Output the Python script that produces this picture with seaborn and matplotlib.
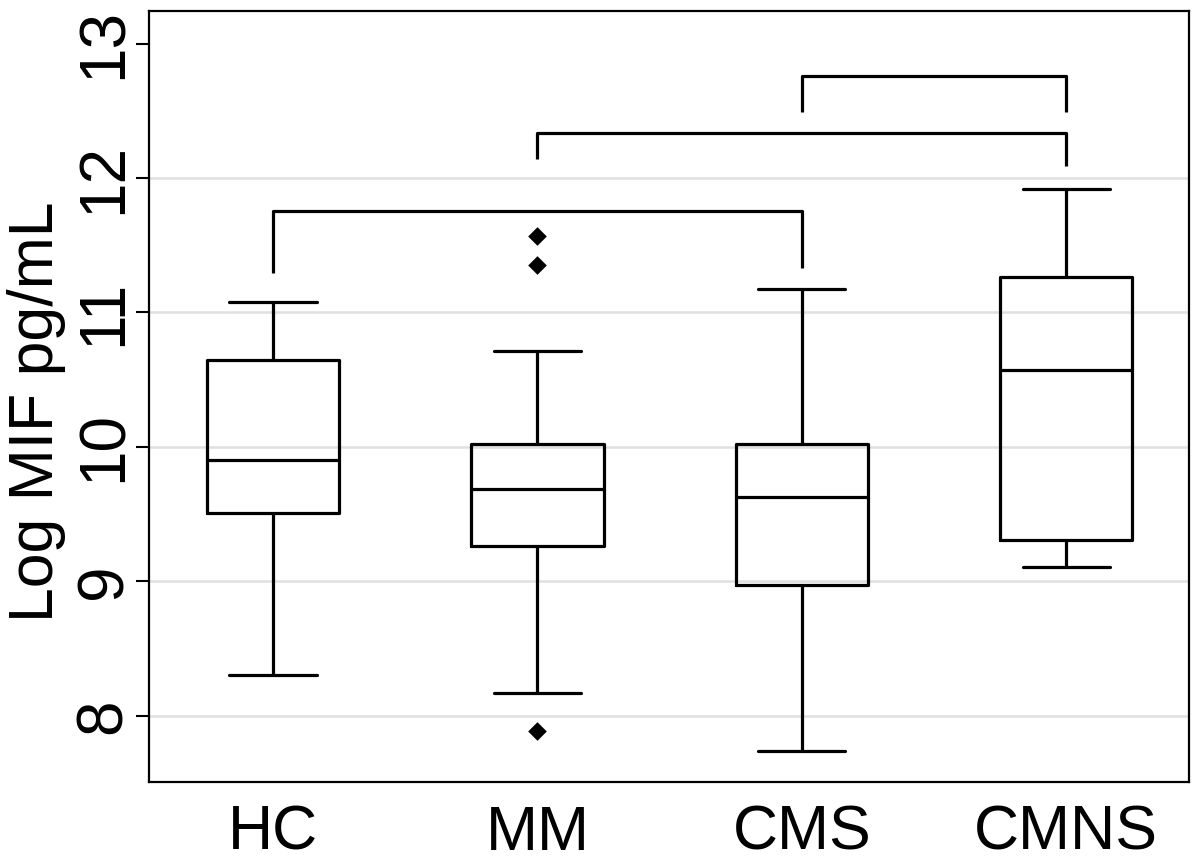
import pandas as pd
import seaborn as sns
import matplotlib.pyplot as plt

# Box summaries (log MIF, pg/mL)
groups = ["HC", "MM", "CMS", "CMNS"]
whisker_low = [8.30, 8.17, 7.74, 9.11]
q1 = [9.505, 9.26, 8.97, 9.31]
median = [9.90, 9.685, 9.63, 10.57]
q3 = [10.645, 10.025, 10.025, 11.26]
whisker_high = [11.08, 10.71, 11.175, 11.92]

# Outside values
outlier_group = ["MM", "MM", "MM"]
outlier_value = [11.57, 11.35, 7.89]

# Significance brackets: pair, top of bracket, bottom of left leg, bottom of right leg
bracket_left = ["HC", "MM", "CMS"]
bracket_right = ["CMS", "CMNS", "CMNS"]
bracket_top = [11.755, 12.335, 12.76]
bracket_left_end = [11.29, 12.14, 12.49]
bracket_right_end = [11.33, 12.09, 12.49]

y_ticks = [8, 9, 10, 11, 12, 13]

# Long table: each group's five-number summary
rows = []
for i, g in enumerate(groups):
    for v in (whisker_low[i], q1[i], median[i], q3[i], whisker_high[i]):
        rows.append({"group": g, "value": v})
df = pd.DataFrame(rows)
out_df = pd.DataFrame({"group": outlier_group, "value": outlier_value})

sns.set_style("white")
plt.rcParams["font.family"] = ["Liberation Sans", "DejaVu Sans"]
plt.rcParams["text.color"] = "black"
plt.rcParams["axes.labelcolor"] = "black"
plt.rcParams["xtick.color"] = "black"
plt.rcParams["ytick.color"] = "black"

fig = plt.figure(figsize=(12, 8.67), dpi=100)
ax = fig.add_axes([0.124, 0.098, 0.867, 0.889])

sns.boxplot(data=df, x="group", y="value", order=groups, whis=(0, 100),
            width=0.5, fill=False, color="black", linewidth=2.3,
            capwidths=0.33, showfliers=False, ax=ax)
sns.stripplot(data=out_df, x="group", y="value", order=groups, jitter=False,
              marker="D", size=9.5, color="black", linewidth=0, ax=ax)

# brackets
pos = {g: i for i, g in enumerate(groups)}
for l, r, top, le, re in zip(bracket_left, bracket_right, bracket_top,
                             bracket_left_end, bracket_right_end):
    ax.plot([pos[l], pos[l], pos[r], pos[r]], [le, top, top, re],
            color="black", lw=2.3, solid_capstyle="butt")

ax.set_xlim(-0.47, 3.465)
ax.set_ylim(7.507, 13.24)
ax.set_yticks(y_ticks)
ax.set_yticklabels([str(t) for t in y_ticks])
ax.yaxis.grid(True, color="#e0e0e0", lw=1.8)
ax.yaxis.get_gridlines()[-1].set_visible(False)
ax.set_axisbelow(True)

ax.tick_params(axis="y", left=True, length=9.5, width=1.5, color="black",
               labelsize=46, labelrotation=90, pad=1, labelcolor="black")
ax.tick_params(axis="x", bottom=False, labelsize=45, pad=12, labelcolor="black")
for lab in ax.get_yticklabels():
    lab.set_va("center")

ax.set_xlabel("")
ax.set_ylabel("Log MIF pg/mL", fontsize=45, color="black")
ax.yaxis.set_label_coords(-0.080, 0.481)

for s in ax.spines.values():
    s.set_visible(True)
    s.set_color("black")
    s.set_linewidth(1.6)

plt.savefig("out.png", dpi=100)
